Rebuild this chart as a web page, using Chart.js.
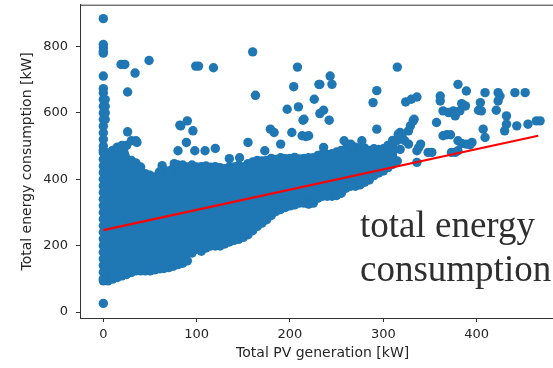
<!DOCTYPE html>
<html><head><meta charset="utf-8">
<script src="https://cdn.jsdelivr.net/npm/chart.js@4"></script>
<style>
html,body{margin:0;padding:0;background:#fff;overflow:hidden;width:553px;height:368px;}
#wrap{position:relative;width:570px;height:368px;}
#note{position:absolute;left:360px;top:203px;font-family:'Liberation Serif','Times New Roman',serif;font-size:37px;line-height:44px;color:#2e2e2e;white-space:pre;}
</style></head><body>
<div id="wrap"><canvas id="c" width="570" height="368"></canvas>
<div id="note">total energy
consumption</div></div>
<script>
// ---- data ----
const xTicks = [0, 100, 200, 300, 400];
const yTicks = [0, 200, 400, 600, 800];

// dense cloud: PV generation sample positions with upper / lower edge of consumption
const blobX = [0,5,10,15,20,25,30,35,40,45,50,55,60,65,70,75,80,85,90,95,100,105,110,115,120,125,130,135,140,145,150,155,160,165,170,175,180,185,190,195,200,205,210,215,220,225,230,235,240,245,250,255,260,265,270,275,280,285,290,295,300,305,310,315];
const blobUpper = [487,479,487,497,502,502,457,449,437,417,412,407,422,427,422,432,443,443,437,443,437,438,440,436,438,435,432,437,437,442,437,447,452,457,455,457,463,460,465,462,463,466,461,463,465,465,472,477,475,477,482,487,492,497,497,492,494,487,492,490,492,502,517,517];
const blobLower = [94,94,99,104,109,113,119,124,124,124,124,127,130,131,134,138,143,147,154,178,189,183,193,199,199,199,205,211,216,219,225,233,245,258,268,278,291,303,309,315,320,323,328,328,325,328,343,349,349,349,351,358,373,379,379,383,391,398,411,419,425,435,445,455];

// readings stacked at zero PV generation
const zeroPvY = [100,120,140,160,180,200,220,240,260,280,300,320,340,360,380,400,420,440,460,480,500,520,540,560,580,600,620,640,660,673];

// isolated readings
const pointX = [0,0,0,0,0,0,0,2,2,2,2,19,23,34,49,26,99,102,118,26,30,35,36,82,90,83,96,89,80,98,109,120,63,71,76,160,163,208,204,231,226,197,209,214,202,217,179,183,155,173,190,135,146,315,243,245,232,293,289,324,330,336,232,236,242,293,333,329,332,318,323,327,327,338,336,258,265,277,236,215,213,220,316,320,318,348,336,380,389,361,361,409,423,425,441,452,404,402,405,423,421,384,388,364,370,375,377,382,357,432,432,430,443,455,464,468,368,372,407,409,384,393,373,352,340,364,380,389,395,377,380];
const pointY = [884,806,796,786,780,711,26,580,600,620,640,746,746,720,758,663,741,741,736,543,516,516,511,563,576,561,546,511,486,486,486,493,441,426,447,784,653,738,679,686,641,611,618,578,541,529,551,541,511,486,506,462,465,738,711,686,686,667,631,633,641,648,598,608,578,551,581,561,576,541,516,506,546,496,486,516,506,516,496,581,531,531,536,531,490,481,451,686,666,651,636,661,661,651,661,661,631,608,606,636,608,628,621,606,601,606,591,606,571,591,566,546,561,566,576,576,534,534,551,526,508,504,481,481,506,531,516,506,511,481,486];

// linear fit line
const fitX = [0, 466];
const fitY = [247, 531];

// ---- chart ----
const blue = '#1f77b4';
const toPts = (xs, ys) => xs.map((x, i) => ({x: x, y: ys[i]}));
const dot = {pointRadius: 4.7, pointBackgroundColor: blue, pointBorderWidth: 0, pointHoverRadius: 4.7};

const frame = {
  id: 'frame',
  afterDatasetsDraw(chart) {
    const a = chart.chartArea, ctx = chart.ctx;
    ctx.save();
    ctx.strokeStyle = '#333';
    ctx.lineWidth = 1;
    ctx.beginPath();
    ctx.moveTo(a.left, a.top + 0.5);
    ctx.lineTo(a.right, a.top + 0.5);
    ctx.lineTo(a.right - 0.5, a.bottom);
    ctx.stroke();
    ctx.restore();
  }
};

const tickFont = {family: 'DejaVu Sans', size: 13};
const titleFont = {family: 'DejaVu Sans', size: 14};

new Chart(document.getElementById('c'), {
  type: 'scatter',
  data: {
    datasets: [
      {label: 'fit', type: 'line', data: toPts(fitX, fitY), borderColor: '#ff0000', borderWidth: 2.2, pointRadius: 0, fill: false, order: 0},
      Object.assign({label: 'readings', data: toPts(pointX, pointY), order: 1}, dot),
      Object.assign({label: 'zero PV', data: zeroPvY.map(y => ({x: 0, y: y})), order: 1}, dot),
      Object.assign({label: 'cloud lower', type: 'line', data: toPts(blobX, blobLower), borderWidth: 0, borderColor: blue, fill: false, order: 2}, dot),
      Object.assign({label: 'cloud upper', type: 'line', data: toPts(blobX, blobUpper), borderWidth: 0, borderColor: blue, backgroundColor: blue, fill: '-1', order: 2}, dot)
    ]
  },
  options: {
    responsive: false,
    animation: false,
    events: [],
    devicePixelRatio: 1,
    layout: {padding: {top: 3, right: 3, left: 0, bottom: 0}},
    plugins: {legend: {display: false}, tooltip: {enabled: false}},
    scales: {
      x: {
        type: 'linear', min: -25, max: 495,
        afterFit(s) { s.height = 50; s.paddingLeft = 0; s.paddingRight = 0; },
        afterBuildTicks(s) { s.ticks = xTicks.map(v => ({value: v})); },
        grid: {drawOnChartArea: false, drawTicks: true, tickLength: 4, color: '#333', lineWidth: 1},
        border: {display: true, color: '#333', width: 1},
        ticks: {padding: 5, color: '#262626', font: tickFont},
        title: {display: true, text: 'Total PV generation [kW]', color: '#262626', font: titleFont, padding: {top: 0, bottom: 6}}
      },
      y: {
        type: 'linear', min: -18, max: 926,
        afterFit(s) { s.width = 80; s.paddingTop = 0; s.paddingBottom = 0; },
        afterBuildTicks(s) { s.ticks = yTicks.map(v => ({value: v})); },
        grid: {drawOnChartArea: false, drawTicks: true, tickLength: 4, color: '#333', lineWidth: 1},
        border: {display: true, color: '#333', width: 1},
        ticks: {padding: 8, color: '#262626', font: tickFont},
        title: {display: true, text: 'Total energy consumption [kW]', color: '#262626', font: titleFont, padding: {top: 19, bottom: 0}}
      }
    }
  },
  plugins: [frame]
});
</script>
</body></html>
